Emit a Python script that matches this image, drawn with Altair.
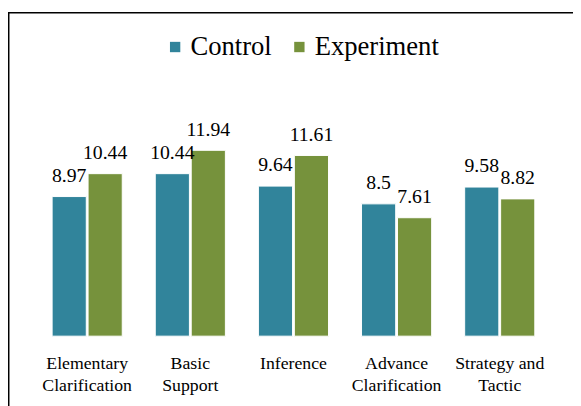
import altair as alt
import pandas as pd

categories = ["Elementary Clarification", "Basic Support", "Inference",
              "Advance Clarification", "Strategy and Tactic"]
label_lines = [["Elementary", "Clarification"], ["Basic", "Support"], ["Inference"],
               ["Advance", "Clarification"], ["Strategy and", "Tactic"]]
groups = ["Control", "Experiment"]
control = [8.97, 10.44, 9.64, 8.5, 9.58]
experiment = [10.44, 11.94, 11.61, 7.61, 8.82]
colors = ["#31849B", "#76923C"]

rows = []
for c, cv, ev in zip(categories, control, experiment):
    rows.append({"category": c, "group": "Control", "value": cv})
    rows.append({"category": c, "group": "Experiment", "value": ev})
df = pd.DataFrame(rows)

# multi-line axis labels
expr = "datum.label"
for cat, lines in reversed(list(zip(categories, label_lines))):
    arr = "[" + ",".join("'" + s + "'" for s in lines) + "]"
    expr = f"datum.label == '{cat}' ? {arr} : ({expr})"

FONT = "Liberation Serif"

x_enc = alt.X("category:N", sort=categories,
              scale=alt.Scale(paddingInner=0.32, paddingOuter=0.16),
              axis=alt.Axis(title=None, labelAngle=0, ticks=False, domain=False,
                            labelFont=FONT, labelFontSize=18, labelColor="black",
                            labelLineHeight=22, labelPadding=19, labelExpr=expr,
                            grid=False))
xoff = alt.XOffset("group:N", sort=groups, scale=alt.Scale(paddingInner=0.05))
y_enc = alt.Y("value:Q", scale=alt.Scale(domain=[0, 14]), axis=None)

bars = alt.Chart(df).mark_bar(stroke="white", strokeWidth=1).encode(
    x=x_enc, xOffset=xoff, y=y_enc,
    color=alt.Color("group:N", sort=groups,
                    scale=alt.Scale(domain=groups, range=colors),
                    legend=alt.Legend(title=None, orient="none", direction="horizontal",
                                      legendX=128, legendY=-86,
                                      symbolType="square", symbolSize=110,
                                      symbolStrokeWidth=0, labelFont=FONT,
                                      labelFontSize=27, labelColor="black",
                                      labelOffset=2, columnPadding=14)),
)

labels = alt.Chart(df).mark_text(font=FONT, fontSize=20, color="black",
                                 baseline="alphabetic", dy=-15).encode(
    x=x_enc, xOffset=xoff, y=y_enc, text=alt.Text("value:Q"),
)

frame = alt.Chart(pd.DataFrame({"f": [0]})).mark_rect(
    fill=None, stroke="black", strokeWidth=1.5).encode(
    x=alt.value(-27.25), x2=alt.value(700), y=alt.value(-107), y2=alt.value(600)
)

chart = alt.layer(frame, bars, labels).properties(
    width=523, height=221,
    padding={"left": 28, "top": 109, "right": 22, "bottom": 68},
    autosize=alt.AutoSizeParams(type="none"),
).configure(background="white", font=FONT).configure_view(stroke=None)

chart.save("out.html", embed_options={"renderer": "svg", "actions": False})
